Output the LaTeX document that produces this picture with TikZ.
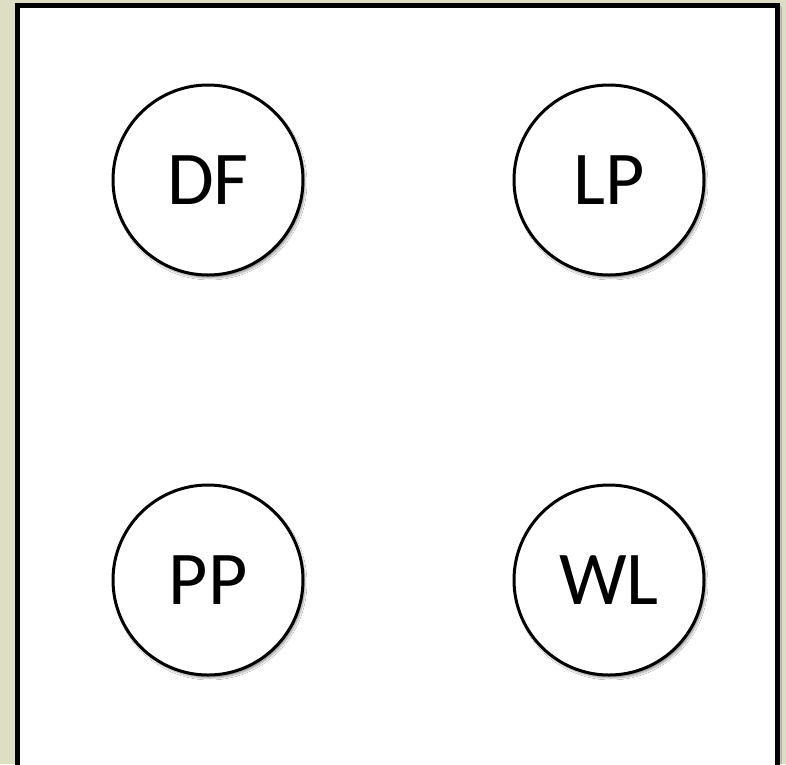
\documentclass[tikz,border=0pt]{standalone}
\usepackage{fontspec}
\setmainfont{Carlito}
\usepackage{tikz}
\usetikzlibrary{positioning, shadows.blur}
\definecolor{pagecolor}{HTML}{DEDEC4}

\begin{document}
\begin{tikzpicture}[
    x=1pt, y=-1pt,
    frame/.style={draw=black, line width=5pt, fill=white, blur shadow={shadow xshift=2pt, shadow yshift=-2pt, shadow blur steps=6}},
    party/.style={circle, draw=black, line width=3pt, fill=white, minimum size=190pt, inner sep=0pt, font=\fontsize{76}{76}\selectfont, blur shadow={shadow xshift=2pt, shadow yshift=-3pt, shadow blur steps=6}}
]
% -- background and frame --
\fill[pagecolor] (0,0) rectangle (786,764);
\useasboundingbox (0,0) rectangle (786,764);
\draw[frame] (17.5,5.5) rectangle (777.5,768);

% -- top row --
\node[party] (df) at (208,180) {DF};
\node[party] (lp) at (609,180) {LP};

% -- bottom row --
\node[party] (pp) at (208,580) {PP};
\node[party] (wl) at (609,580) {WL};

\end{tikzpicture}
\end{document}
